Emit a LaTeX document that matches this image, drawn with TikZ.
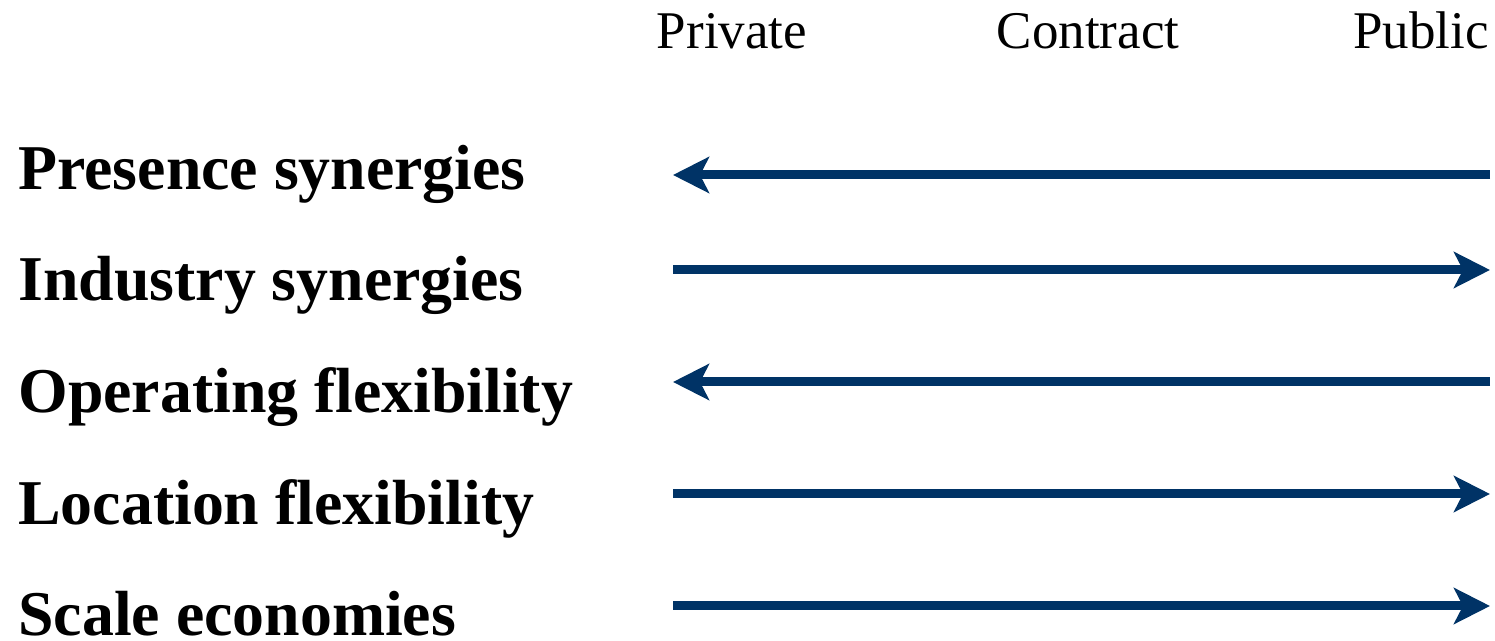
\documentclass[tikz,border=0pt]{standalone}
\usepackage{fontspec}
\setmainfont{Liberation Serif}
\usepackage{tikz}
\usetikzlibrary{arrows.meta}
\usepackage{xcolor}
\definecolor{navy}{RGB}{0,51,102}
\tikzset{
	factor/.style={%
		anchor=base west, inner sep=0pt,
		font=\fontsize{31.9pt}{36pt}\selectfont\bfseries
	},
	column/.style={%
		anchor=base, inner sep=0pt,
		font=\fontsize{26.5pt}{30pt}\selectfont
	},
	tendency/.style={%
		navy, line width=4.5pt,
		-{Stealth[length=18pt,width=18pt,inset=4.5pt]}
	}
}
\begin{document}
\begin{tikzpicture}[x=0.5pt,y=-0.5pt]
		\useasboundingbox (0,0) rectangle (1495,641);
		
		% column heads
		\node[column] (private) at (732,49) {Private};
		\node[column] (contract) at (1088,49) {Contract};
		\node[column] (public) at (1421,49) {Public};
		
		% factors
		\node[factor] (presence) at (18,190) {Presence synergies};
		\node[factor] (industry) at (18,301) {Industry synergies};
		\node[factor] (operating) at (18,413) {Operating flexibility};
		\node[factor] (location) at (18,525) {Location flexibility};
		\node[factor] (scale) at (18,636) {Scale economies};
		
		% ends of the arrows
		\coordinate (presence-l) at (673,175);
		\coordinate (presence-r) at (1490,175);
		\coordinate (industry-l) at (673,270);
		\coordinate (industry-r) at (1490,270);
		\coordinate (operating-l) at (673,382);
		\coordinate (operating-r) at (1490,382);
		\coordinate (location-l) at (673,494);
		\coordinate (location-r) at (1490,494);
		\coordinate (scale-l) at (673,606);
		\coordinate (scale-r) at (1490,606);
		
		%arrows towards private or public
		\draw[tendency] (presence-r) -- (presence-l);
		\draw[tendency] (industry-l) -- (industry-r);
		\draw[tendency] (operating-r) -- (operating-l);
		\draw[tendency] (location-l) -- (location-r);
		\draw[tendency] (scale-l) -- (scale-r);
		
\end{tikzpicture}
\end{document}
